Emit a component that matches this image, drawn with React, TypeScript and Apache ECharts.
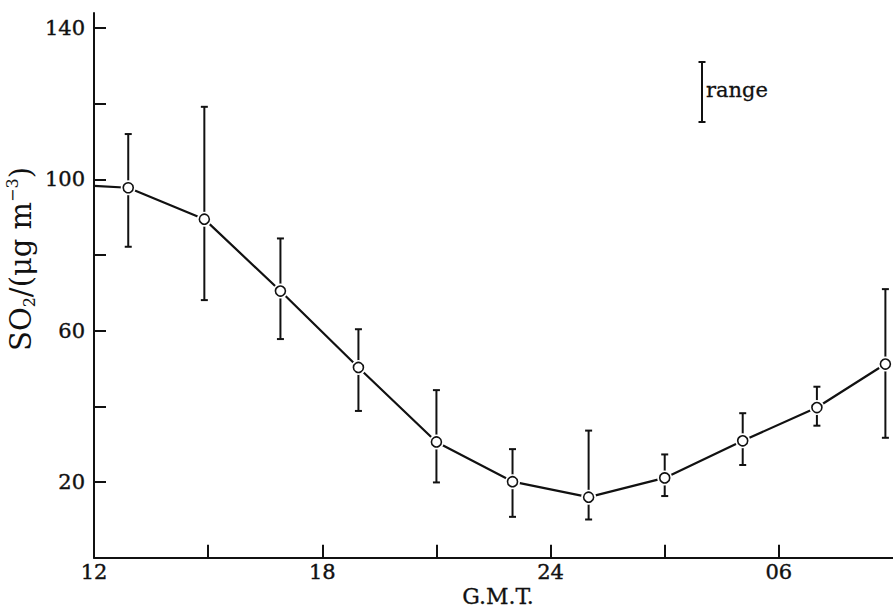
import React, { useEffect, useRef } from "react";
import * as echarts from "echarts";

// Hours G.M.T. (12 → 36, values beyond 24 are next-day hours)
const hours = [12.9, 14.9, 16.9, 18.95, 21, 23, 25, 27, 29.05, 31, 32.8];
const so2Mean = [97.8, 89.5, 70.5, 50.3, 30.6, 20.1, 16.0, 21.1, 30.9, 39.7, 51.2];
const so2High = [112, 119.2, 84.4, 60.4, 44.3, 28.7, 33.6, 27.3, 38.2, 45.2, 71.0];
const so2Low = [82.2, 68.1, 57.8, 38.8, 19.9, 10.8, 10.1, 16.3, 24.5, 34.9, 31.7];
// line segment entering from the left edge of the plot
const leadIn = [12, 98.3];

const xTickValues = [15, 18, 21, 24, 27, 30];
const xLabelValues = [12, 18, 24, 30];
const xLabelTexts = ["12", "18", "24", "06"];
const yTickValues = [20, 40, 60, 80, 100, 120, 140];
const yLabelValues = [20, 60, 100, 140];

const FONT = "DejaVu Serif";
const INK = "#111";

export default function App() {
  const ref = useRef<HTMLDivElement>(null);
  useEffect(() => {
    const chart = echarts.init(ref.current!, null, { renderer: "svg" });
    const meanPts = hours.map((h, i) => [h, so2Mean[i]]);
    const tickFont = {
      fontFamily: FONT,
      fontSize: 21,
      color: INK,
      textBorderColor: INK,
      textBorderWidth: 0.4,
    };
    chart.setOption({
      animation: false,
      backgroundColor: "#fff",
      grid: { left: 94, top: 13, width: 801.6, height: 544.7 },
      xAxis: {
        type: "value",
        min: 12,
        max: 33,
        splitLine: { show: false },
        axisLine: { show: true, lineStyle: { color: INK, width: 2 } },
        axisTick: {
          show: true,
          inside: true,
          length: 13,
          customValues: xTickValues,
          lineStyle: { color: INK, width: 2 },
        },
        axisLabel: {
          customValues: xLabelValues,
          formatter: (v: number) => xLabelTexts[xLabelValues.indexOf(v)] ?? "",
          ...tickFont,
          margin: 4,
        },
      },
      yAxis: {
        type: "value",
        min: 0,
        max: 144,
        splitLine: { show: false },
        axisLine: { show: true, lineStyle: { color: INK, width: 2 } },
        axisTick: {
          show: true,
          inside: true,
          length: 12,
          customValues: yTickValues,
          lineStyle: { color: INK, width: 2 },
        },
        axisLabel: {
          customValues: yLabelValues,
          ...tickFont,
          margin: 9,
        },
      },
      graphic: [
        {
          type: "text",
          x: 21,
          y: 259,
          rotation: Math.PI / 2,
          style: {
            text: "{a|SO}{s|2}{a|/(μg m}{p|−3}{a|)}",
            align: "center",
            verticalAlign: "middle",
            fill: INK,
            rich: {
              a: { fontFamily: FONT, fontSize: 29, lineHeight: 33, fill: INK },
              s: { fontFamily: FONT, fontSize: 16, lineHeight: 16, verticalAlign: "bottom", fill: INK },
              p: { fontFamily: FONT, fontSize: 16, lineHeight: 16, verticalAlign: "top", fill: INK },
            },
          },
        },
        {
          type: "text",
          x: 498,
          y: 596,
          style: {
            text: "G.M.T.",
            fontFamily: FONT,
            fontSize: 22,
            fill: INK,
            stroke: INK,
            lineWidth: 0.3,
            align: "center",
            verticalAlign: "middle",
          },
        },
        {
          type: "group",
          children: [
            { type: "line", shape: { x1: 702, y1: 62, x2: 702, y2: 122 }, style: { stroke: INK, lineWidth: 2 } },
            { type: "line", shape: { x1: 698.5, y1: 62, x2: 705.5, y2: 62 }, style: { stroke: INK, lineWidth: 2 } },
            { type: "line", shape: { x1: 698.5, y1: 122, x2: 705.5, y2: 122 }, style: { stroke: INK, lineWidth: 2 } },
            {
              type: "text",
              x: 706,
              y: 90,
              style: {
                text: "range",
                fontFamily: FONT,
                fontSize: 21,
                fill: INK,
                stroke: INK,
                lineWidth: 0.3,
                align: "left",
                verticalAlign: "middle",
              },
            },
          ],
        },
      ],
      series: [
        {
          type: "custom",
          z: 2,
          data: hours.map((h, i) => [h, so2Low[i], so2High[i]]),
          encode: { x: 0, y: [1, 2] },
          renderItem: (params: any, api: any) => {
            const x = api.value(0);
            const top = api.coord([x, api.value(2)]);
            const bot = api.coord([x, api.value(1)]);
            const hw = 3.5;
            const st = { stroke: INK, lineWidth: 2 };
            return {
              type: "group",
              children: [
                { type: "line", shape: { x1: top[0], y1: top[1], x2: bot[0], y2: bot[1] }, style: st },
                { type: "line", shape: { x1: top[0] - hw, y1: top[1], x2: top[0] + hw, y2: top[1] }, style: st },
                { type: "line", shape: { x1: bot[0] - hw, y1: bot[1], x2: bot[0] + hw, y2: bot[1] }, style: st },
              ],
            };
          },
        },
        {
          type: "line",
          z: 3,
          data: [leadIn, ...meanPts],
          showSymbol: false,
          symbol: "none",
          lineStyle: { color: INK, width: 2.2 },
        },
        {
          type: "scatter",
          z: 4,
          data: meanPts,
          symbol: "circle",
          symbolSize: 15,
          itemStyle: { color: "#fff", opacity: 1 },
        },
        {
          type: "scatter",
          z: 5,
          data: meanPts,
          symbol: "circle",
          symbolSize: 10,
          itemStyle: { color: "#fff", borderColor: INK, borderWidth: 1.6, opacity: 1 },
        },
      ],
    });
    return () => chart.dispose();
  }, []);
  return (
    <div
      ref={ref}
      style={{ position: "absolute", left: 0, top: 0, width: 893, height: 611, background: "#fff" }}
    />
  );
}
